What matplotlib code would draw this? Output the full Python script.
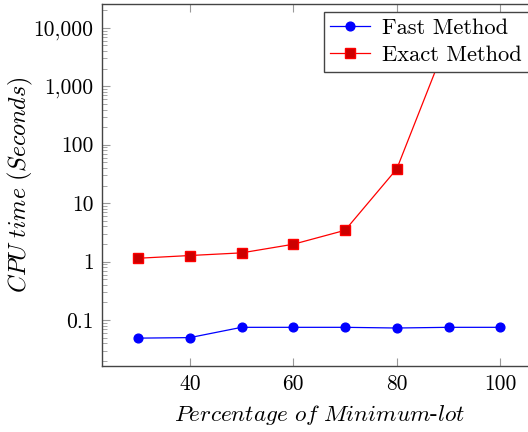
import matplotlib
matplotlib.use('Agg')
import matplotlib.pyplot as plt
from matplotlib.ticker import FixedLocator, FuncFormatter, LogLocator, NullFormatter

plt.rcParams['font.family'] = 'serif'
plt.rcParams['font.serif'] = ['cmr10']
plt.rcParams['mathtext.fontset'] = 'cm'
plt.rcParams['axes.unicode_minus'] = False

percent = [30, 40, 50, 60, 70, 80, 90, 100]
fast_time = [0.049, 0.050, 0.075, 0.075, 0.075, 0.073, 0.075, 0.075]
exact_time = [1.14, 1.27, 1.41, 1.98, 3.43, 38.5, 6800, 7800]

y_ticks = [0.1, 1, 10, 100, 1000, 10000]
x_ticks = [40, 60, 80, 100]

fig = plt.figure(figsize=(5.28, 4.32), dpi=100)
# axes runs a little past the right edge of the image, like the original
ax = fig.add_axes([0.193, 0.153, 0.823, 0.838])

ax.plot(percent, fast_time, color='blue', lw=0.9, marker='o', ms=6.3,
        mfc='blue', mec='blue', label='Fast Method')
ax.plot(percent, exact_time, color='red', lw=0.9, marker='s', ms=6.5,
        mfc='#cc0000', mec='red', label='Exact Method')

ax.set_yscale('log')
ax.set_ylim(0.0164, 25700)
ax.set_xlim(23, 107)

ax.yaxis.set_major_locator(FixedLocator(y_ticks))
ax.yaxis.set_major_formatter(FuncFormatter(lambda v, p: f'{v:,.0f}' if v >= 1 else f'{v:g}'))
ax.yaxis.set_minor_locator(LogLocator(base=10, subs=range(2, 10), numticks=20))
ax.yaxis.set_minor_formatter(NullFormatter())
ax.xaxis.set_major_locator(FixedLocator(x_ticks))

ax.tick_params(which='both', direction='in', top=True, right=True,
               color='#999999', labelsize=15.5, pad=6)
ax.tick_params(which='major', length=6)
ax.tick_params(which='minor', length=3.5)
for s in ax.spines.values():
    s.set_color('#444444')
    s.set_linewidth(1.0)

ax.set_xlabel(r'$Percentage\ of\ Minimum$-$lot$', fontsize=16.7, labelpad=7)
ax.set_ylabel(r'$CPU\ time\ (Seconds)$', fontsize=17.3)
ax.yaxis.set_label_coords(-0.155, 0.5)

leg = ax.legend(loc='upper right', fontsize=16.2, fancybox=False, framealpha=1,
                edgecolor='#444444', borderpad=0.3, handlelength=1.75,
                handletextpad=0.55, borderaxespad=0.35, labelspacing=0.3)
leg.get_frame().set_linewidth(1.0)

fig.savefig('out.png', dpi=100)
plt.close(fig)
